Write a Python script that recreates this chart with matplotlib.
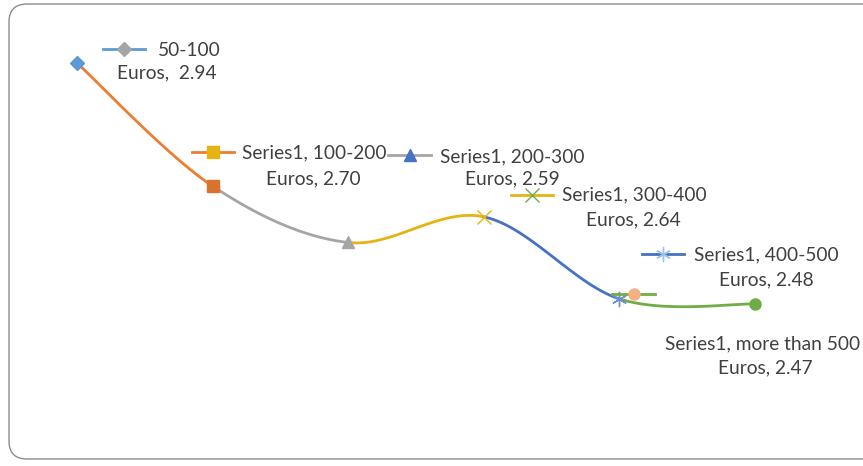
"""Excel-style smoothed line chart with per-point data labels."""

import matplotlib

matplotlib.use("Agg")
import matplotlib.pyplot as plt
import numpy as np
from matplotlib.lines import Line2D
from matplotlib.patches import FancyBboxPatch
from matplotlib.transforms import IdentityTransform

# ---- data ----
categories = ["50-100", "100-200", "200-300", "300-400", "400-500", "more than 500"]
values = [2.94, 2.70, 2.59, 2.64, 2.48, 2.47]

# colours (Office palette)
seg_colors = ["#ED7D31", "#A5A5A5", "#E6B412", "#4472C4", "#70AD47"]
ASTER = (6, 2, 0)
pt_markers = ["D", "s", "^", "x", ASTER, "o"]
pt_colors = ["#5B9BD5", "#D9722F", "#A5A5A5", "#E6B412", "#6A8ED0", "#70AD47"]
key_line_colors = ["#5B9BD5", "#ED7D31", "#A5A5A5", "#E6B412", "#4472C4", "#70AD47"]
key_marker_colors = ["#A5A5A5", "#E6B412", "#4472C4", "#70AD47", "#9DC3E6", "#F4B183"]

# label layout, pixel offsets from each point (dy positive = down)
# (key x0, key x1, key dy, text left dx, text dy, line2 centre dx, line2 dy)
label_layout = [
    (26, 68, -14, 81, -13, 90, 10),
    (-21, 21, -34, 29, -33, 101, -7),
    (40, 83, -87, 92, -86, 164, -64),
    (27, 69, -22, 78, -22, 150, 3),
    (23, 65, -45, 75, -44, 147, -19),
    (-143, -100, -10, -90, 40, 10, 64),
]

W, H, DPI = 863, 466, 100
plt.rcParams["font.family"] = ["Lato", "DejaVu Sans"]
TEXT = "#404040"
FS = 13.8

fig = plt.figure(figsize=(W / DPI, H / DPI), dpi=DPI)
ax = fig.add_axes([0, 0, 1, 1])
ax.set_axis_off()

x = np.arange(len(values), dtype=float)
y = np.array(values)
# map so points land where they sit in the picture
px_step, x0_px = 135.6, 77.0
k, y0_px = 512.8, 63.0
ax.set_xlim(-x0_px / px_step, (W - x0_px) / px_step)
ax.set_ylim(values[0] - (H - y0_px) / k, values[0] + y0_px / k)


def bezier_segment(i):
    p = np.column_stack([x, y])
    n = len(p)
    pm = p[max(i - 1, 0)]
    p0, p1 = p[i], p[i + 1]
    pp = p[min(i + 2, n - 1)]
    c1 = p0 + (p1 - pm) / 6.0
    c2 = p1 - (pp - p0) / 6.0
    t = np.linspace(0, 1, 60)[:, None]
    b = ((1 - t) ** 3) * p0 + 3 * ((1 - t) ** 2) * t * c1 + 3 * (1 - t) * t**2 * c2 + t**3 * p1
    return b[:, 0], b[:, 1]


def marker_kw(m):
    if m == "x":
        return dict(markersize=10, markeredgewidth=1.0)
    if m == ASTER:
        return dict(markersize=11, markeredgewidth=1.0)
    if m == "D":
        return dict(markersize=7)
    return dict(markersize=8)


for i in range(len(values) - 1):
    bx, by = bezier_segment(i)
    ax.plot(bx, by, color=seg_colors[i], lw=2.0, solid_capstyle="round", zorder=2)

for i in range(len(values)):
    m = pt_markers[i]
    ax.plot(x[i], y[i], marker=m, color=pt_colors[i], linestyle="none", zorder=3, **marker_kw(m))

fig.canvas.draw()


def to_disp(i, dx, dy):
    px, py = ax.transData.transform((x[i], y[i]))
    return px + dx, py - dy


for i, (kx0, kx1, kdy, tdx, tdy, cdx, cdy) in enumerate(label_layout):
    a = to_disp(i, kx0, kdy)
    b = to_disp(i, kx1, kdy)
    fig.add_artist(Line2D([a[0], b[0]], [a[1], b[1]], color=key_line_colors[i], lw=2.0,
                          transform=IdentityTransform(), zorder=4))
    mx = (a[0] + b[0]) / 2
    m = pt_markers[i]
    fig.add_artist(Line2D([mx], [a[1]], marker=m, color=key_marker_colors[i], linestyle="none",
                          transform=IdentityTransform(), zorder=5, **marker_kw(m)))
    first = categories[i] if i == 0 else f"Series1, {categories[i]}"
    second = f"Euros,  {values[i]:.2f}" if i == 0 else f"Euros, {values[i]:.2f}"
    ax.annotate(first, (x[i], y[i]), xytext=(tdx, -tdy), textcoords="offset pixels",
                ha="left", va="center", fontsize=FS, color=TEXT, zorder=6)
    ax.annotate(second, (x[i], y[i]), xytext=(cdx, -cdy), textcoords="offset pixels",
                ha="center", va="center", fontsize=FS, color=TEXT, zorder=6)

# chart area border with rounded corners
fig.patches.append(FancyBboxPatch((9 + 18, 7 + 18), W + 40, H - 7 - 2 - 36 - 2,
                                  boxstyle="round,pad=18", transform=None,
                                  facecolor="none", edgecolor="#8C8C8C", lw=1.0))

fig.savefig("out.png", dpi=DPI)
